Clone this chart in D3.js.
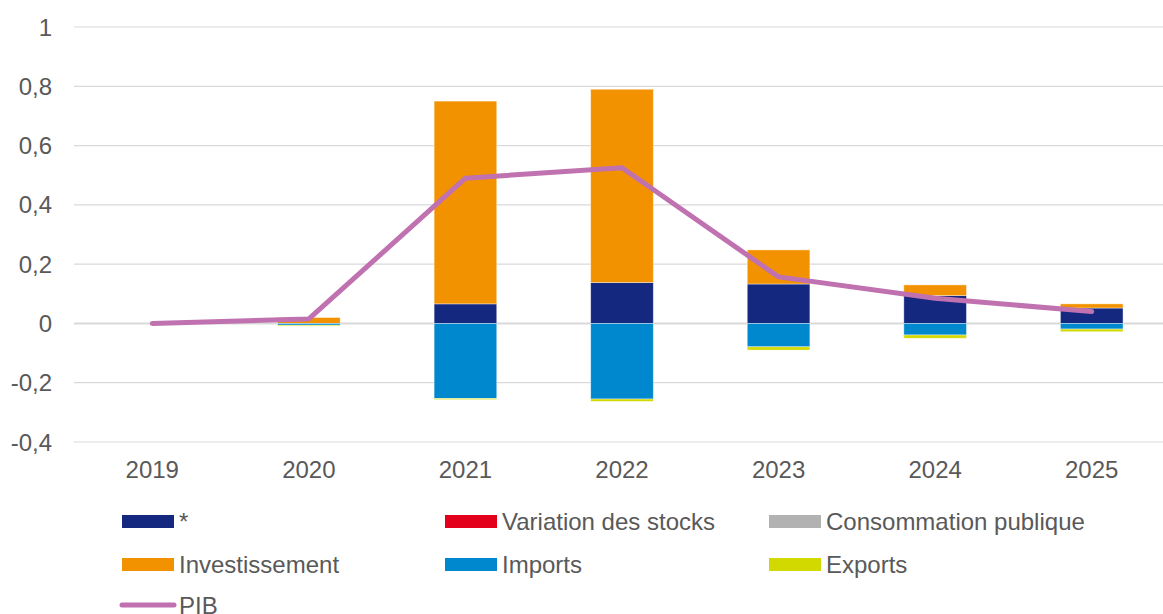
<!DOCTYPE html>
<html>
<head>
<meta charset="utf-8">
<script src="https://cdn.jsdelivr.net/npm/d3@7"></script>
<style>
  body { margin: 0; background: #fff; }
  text { font-family: "Liberation Sans", Arial, sans-serif; fill: #595959; }
</style>
</head>
<body>
<svg id="chart" width="1163" height="614"></svg>
<script>
// years on the x axis
var years = ["2019", "2020", "2021", "2022", "2023", "2024", "2025"];

// contributions, one array per component
var autre = [0, 0, 0.066, 0.138, 0.133, 0.094, 0.052];
var stocks = [0, 0, 0, 0, 0, 0, 0];
var consoPub = [0, 0, 0, 0, 0, 0, 0];
var invest = [0, 0.02, 0.684, 0.652, 0.115, 0.036, 0.014];
var imports = [0, -0.006, -0.253, -0.255, -0.079, -0.039, -0.019];
var exports = [0, -0.003, -0.004, -0.008, -0.011, -0.011, -0.009];
var pib = [0, 0.015, 0.49, 0.525, 0.157, 0.085, 0.04];

var yTicks = [-0.4, -0.2, 0, 0.2, 0.4, 0.6, 0.8, 1];

var series = [
  { name: "*", values: autre, color: "#14287f" },
  { name: "Variation des stocks", values: stocks, color: "#e2001a" },
  { name: "Consommation publique", values: consoPub, color: "#b2b2b2" },
  { name: "Investissement", values: invest, color: "#f39200" },
  { name: "Imports", values: imports, color: "#0088ce" },
  { name: "Exports", values: exports, color: "#d2d900" }
];
var pibColor = "#c071b0";

var svg = d3.select("#chart");
var mLeft = 74, mRight = 1170, mTop = 27, mBottom = 442;

var x = d3.scaleBand().domain(years).range([mLeft, mRight]).paddingInner(0.6).paddingOuter(0.3);
var xc = d3.scalePoint().domain(years).range([mLeft, mRight]).padding(0.5);
var y = d3.scaleLinear().domain([-0.4, 1]).range([mBottom, mTop]);

var fmt = function(v) { return String(+v.toFixed(2)).replace(".", ","); };

// grid
svg.append("g").selectAll("line").data(yTicks).enter().append("line")
  .attr("x1", mLeft).attr("x2", 1163)
  .attr("y1", function(d) { return y(d); })
  .attr("y2", function(d) { return y(d); })
  .attr("stroke", "#d9d9d9")
  .attr("stroke-width", function(d) { return d === 0 ? 2 : 1.2; });

// y labels
svg.append("g").selectAll("text").data(yTicks).enter().append("text")
  .attr("x", 52).attr("y", function(d) { return y(d); })
  .attr("dy", "0.36em")
  .attr("text-anchor", "end")
  .style("font-size", "24px")
  .text(fmt);

// x labels
svg.append("g").selectAll("text").data(years).enter().append("text")
  .attr("x", function(d) { return xc(d); }).attr("y", 478)
  .attr("text-anchor", "middle")
  .style("font-size", "24px")
  .text(function(d) { return d; });

// stacked bars: positives go up, negatives go down
var posBase = years.map(function() { return 0; });
var negBase = years.map(function() { return 0; });
series.forEach(function(s) {
  var segs = s.values.map(function(v, i) {
    var y0, y1;
    if (v >= 0) { y0 = posBase[i]; y1 = y0 + v; posBase[i] = y1; }
    else { y0 = negBase[i]; y1 = y0 + v; negBase[i] = y1; }
    return { year: years[i], y0: y0, y1: y1, v: v };
  }).filter(function(d) { return d.v !== 0; });

  svg.append("g").selectAll("rect").data(segs).enter().append("rect")
    .attr("x", function(d) { return x(d.year); })
    .attr("width", x.bandwidth())
    .attr("y", function(d) { return y(Math.max(d.y0, d.y1)); })
    .attr("height", function(d) { return Math.abs(y(d.y0) - y(d.y1)); })
    .attr("fill", s.color)
    .attr("stroke", "#fff").attr("stroke-opacity", 0.5).attr("stroke-width", 0.8);
});

// PIB line
var line = d3.line().x(function(d, i) { return xc(years[i]); }).y(function(d) { return y(d); });
svg.append("path").datum(pib)
  .attr("d", line)
  .attr("fill", "none")
  .attr("stroke", pibColor)
  .attr("stroke-width", 5)
  .attr("stroke-linecap", "round")
  .attr("stroke-linejoin", "round");

// legend
var legCols = [122, 445, 769];
var legRows = [521, 564];
series.forEach(function(s, i) {
  var lx = legCols[i % 3], ly = legRows[Math.floor(i / 3)];
  var g = svg.append("g");
  g.append("rect").attr("x", lx).attr("y", ly - 6).attr("width", 52).attr("height", 13).attr("fill", s.color);
  g.append("text").attr("x", lx + 57).attr("y", ly).attr("dy", "0.36em")
    .style("font-size", "24px").text(s.name);
});
var pg = svg.append("g");
pg.append("line").attr("x1", 122).attr("x2", 174).attr("y1", 605).attr("y2", 605)
  .attr("stroke", pibColor).attr("stroke-width", 5).attr("stroke-linecap", "round");
pg.append("text").attr("x", 179).attr("y", 605).attr("dy", "0.36em")
  .style("font-size", "24px").text("PIB");
</script>
</body>
</html>
